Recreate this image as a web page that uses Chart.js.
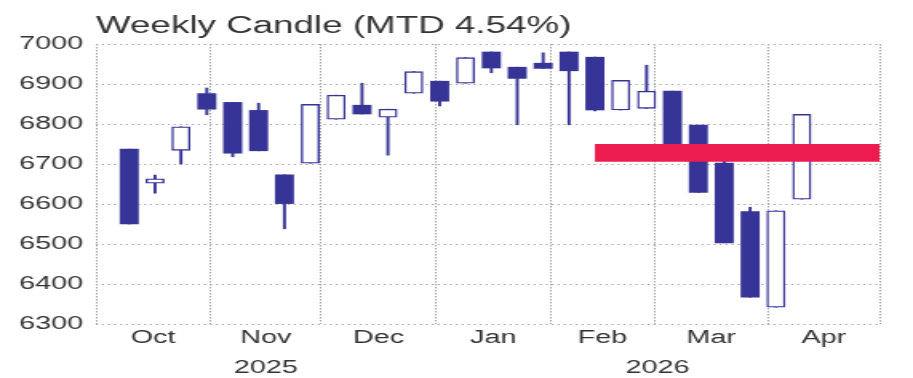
<!DOCTYPE html>
<html>
<head>
<meta charset="utf-8">
<script src="https://cdn.jsdelivr.net/npm/chart.js@4.4.1/dist/chart.umd.min.js"></script>
<style>
  html, body { margin: 0; padding: 0; background: #fff; }
</style>
</head>
<body>
<!-- drawn narrow and stretched to 913px wide, like the reference -->
<canvas id="chart" width="571" height="378" style="display:block;width:913px;height:378px"></canvas>
<script>
/* global Chart */
{
  'use strict';

  /* Data */

  const weeks = [
    '2025-10-10', '2025-10-17', '2025-10-24', '2025-10-31', '2025-11-07', '2025-11-14',
    '2025-11-21', '2025-11-28', '2025-12-05', '2025-12-12', '2025-12-19', '2025-12-26',
    '2026-01-02', '2026-01-09', '2026-01-16', '2026-01-23', '2026-01-30', '2026-02-06',
    '2026-02-13', '2026-02-20', '2026-02-27', '2026-03-06', '2026-03-13', '2026-03-20',
    '2026-03-27', '2026-04-03', '2026-04-10'
  ];
  const opens  = [6737, 6652, 6734, 6876, 6854, 6834, 6673, 6702, 6812, 6847, 6817, 6877, 6907, 6902,
                  6980, 6942, 6952, 6980, 6967, 6835, 6839, 6882, 6797, 6702, 6581, 6342, 6612];
  const highs  = [6737, 6672, 6793, 6890, 6854, 6852, 6673, 6849, 6872, 6902, 6837, 6931, 6907, 6966,
                  6980, 6942, 6978, 6980, 6967, 6909, 6947, 6882, 6797, 6710, 6592, 6583, 6824];
  const lows   = [6550, 6627, 6700, 6823, 6718, 6733, 6538, 6702, 6812, 6825, 6722, 6877, 6845, 6902,
                  6928, 6798, 6939, 6798, 6833, 6835, 6839, 6715, 6629, 6503, 6367, 6342, 6612];
  const closes = [6550, 6663, 6793, 6837, 6727, 6733, 6601, 6849, 6872, 6825, 6837, 6931, 6857, 6966,
                  6940, 6914, 6939, 6933, 6835, 6909, 6882, 6720, 6629, 6503, 6367, 6583, 6824];

  const monthStarts = ['2025-10-01', '2025-11-01', '2025-12-01', '2026-01-01', '2026-02-01',
                       '2026-03-01', '2026-04-01', '2026-05-01'];
  const monthLabels = ['Oct', 'Nov', 'Dec', 'Jan', 'Feb', 'Mar', 'Apr'];
  const yearStarts = ['2025-10-01', '2026-01-01', '2026-05-01'];
  const yearLabels = ['2025', '2026'];
  const yTicks = [6300, 6400, 6500, 6600, 6700, 6800, 6900, 7000];

  const bandLevel = 6728;
  const bandFrom = '2026-02-13';
  const bandTo = '2026-05-01';

  /* Helpers */

  const NAVY = '#363496';
  const RED = '#ec1c50';
  const GRID = '#a3a3a3';
  const TEXT = '#333333';
  const FONT = "'Liberation Sans', Arial, Helvetica, sans-serif";

  const X0 = Date.UTC(2025, 9, 1);
  function dayOf(s) {
    const [y, m, d] = s.split('-').map(Number);
    return (Date.UTC(y, m - 1, d) - X0) / 864e5;
  }
  function mids(list) {
    const out = [];
    for (let i = 0; i < list.length - 1; i++) {
      out.push({ value: (dayOf(list[i]) + dayOf(list[i + 1])) / 2 });
    }
    return out;
  }

  const xMin = dayOf(monthStarts[0]);
  const xMax = dayOf(monthStarts[monthStarts.length - 1]);

  const hollow = [];
  const filled = [];
  const wicks = [];
  weeks.forEach(function(w, i) {
    const x = dayOf(w);
    const body = { x: x, y: [opens[i], closes[i]] };
    if (closes[i] >= opens[i]) hollow.push(body); else filled.push(body);
    wicks.push({ x: x, y: [lows[i], highs[i]] });
  });

  /* Chart */

  const ctx = document.getElementById('chart').getContext('2d');

  const labelAxis = function(ticksFn, labels, weight, pad, height) {
    return {
      type: 'linear',
      axis: 'x',
      position: 'bottom',
      min: xMin,
      max: xMax,
      offset: false,
      weight: weight,
      afterBuildTicks: function(scale) { scale.ticks = ticksFn(); },
      afterFit: function(scale) { scale.height = height; },
      ticks: {
        autoSkip: false,
        maxRotation: 0,
        padding: pad,
        color: TEXT,
        font: { family: FONT, size: 18, lineHeight: 1.2 },
        callback: function(v, i) { return labels[i]; }
      },
      grid: { display: false, drawTicks: false, offset: false },
      border: { display: false }
    };
  };

  const chart = new Chart(ctx, {
    type: 'bar',
    data: {
      datasets: [
        {
          type: 'line',
          data: [{ x: dayOf(bandFrom), y: bandLevel }, { x: dayOf(bandTo), y: bandLevel }],
          borderColor: RED,
          borderWidth: 17.7,
          borderCapStyle: 'butt',
          pointRadius: 0,
          fill: false,
          clip: false,
          order: 0
        },
        {
          data: hollow,
          backgroundColor: '#ffffff',
          borderColor: NAVY,
          borderWidth: 1.4,
          borderSkipped: false,
          barThickness: 11.25,
          grouped: false,
          order: 1
        },
        {
          data: filled,
          backgroundColor: NAVY,
          borderWidth: 0,
          barThickness: 11.25,
          grouped: false,
          order: 2
        },
        {
          data: wicks,
          backgroundColor: NAVY,
          borderWidth: 0,
          barThickness: 1.25,
          grouped: false,
          order: 3
        }
      ]
    },
    options: {
      responsive: false,
      devicePixelRatio: 1,
      animation: false,
      layout: { padding: { left: 0, right: 21, top: 0, bottom: 0 } },
      plugins: {
        legend: { display: false },
        tooltip: { enabled: false },
        title: {
          display: true,
          text: 'Weekly Candle (MTD 4.54%)',
          align: 'start',
          fullSize: false,
          color: TEXT,
          font: { family: FONT, size: 23, weight: 'normal', lineHeight: 1.2 },
          padding: { top: 13, bottom: 3.4 }
        }
      },
      scales: {
        x: {
          type: 'linear',
          min: xMin,
          max: xMax,
          offset: false,
          weight: 0,
          afterBuildTicks: function(scale) {
            scale.ticks = monthStarts.map(function(d) { return { value: dayOf(d) }; });
          },
          afterFit: function(scale) { scale.height = 0; },
          ticks: { display: false },
          grid: { color: GRID, lineWidth: 1, drawTicks: false, offset: false },
          border: { display: false, dash: [1.5, 1.5] }
        },
        xm: labelAxis(function() { return mids(monthStarts); }, monthLabels, 1, 3, 26),
        xy: labelAxis(function() { return mids(yearStarts); }, yearLabels, 2, 7, 28),
        y: {
          min: yTicks[0],
          max: yTicks[yTicks.length - 1],
          beginAtZero: false,
          afterBuildTicks: function(scale) {
            scale.ticks = yTicks.map(function(v) { return { value: v }; });
          },
          afterFit: function(scale) { scale.width = 60; },
          ticks: {
            padding: 8,
            color: TEXT,
            font: { family: FONT, size: 18 },
            callback: function(v) { return String(v); }
          },
          grid: { color: GRID, lineWidth: 1, drawTicks: false },
          border: { display: false, dash: [1.25, 2.5] }
        }
      }
    }
  });
  console.log(chart.chartArea);
}
</script>
</body>
</html>
